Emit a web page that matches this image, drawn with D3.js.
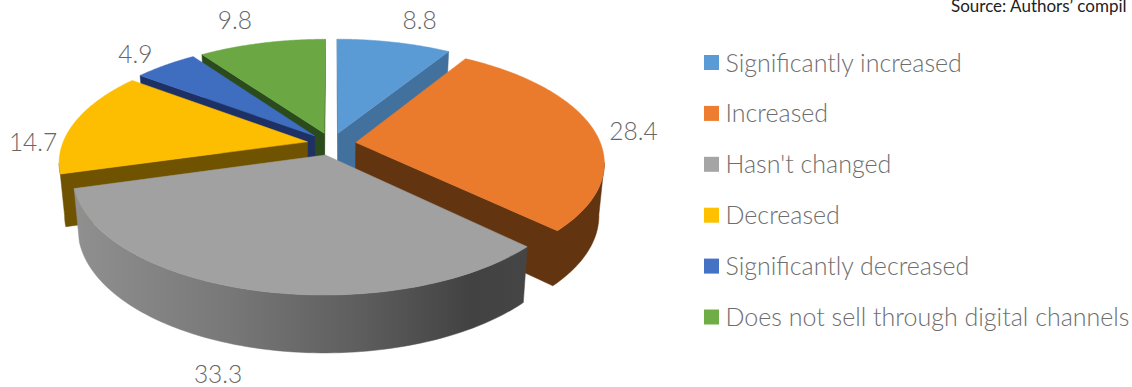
<!DOCTYPE html>
<html>
<head>
<meta charset="utf-8">
<script src="https://cdn.jsdelivr.net/npm/d3@7/dist/d3.min.js"></script>
<style>
  html, body { margin: 0; padding: 0; background: #fff; }
  svg { display: block; font-family: Lato, "Open Sans", sans-serif; }
</style>
</head>
<body>
<svg id="chart" width="1132" height="387"></svg>
<script>
// Survey shares, clockwise from twelve o'clock
const categories = ["Significantly increased", "Increased", "Hasn't changed",
                    "Decreased", "Significantly decreased", "Does not sell through digital channels"];
const shares = [8.8, 28.4, 33.3, 14.7, 4.9, 9.8];
const shareLabels = ["8.8", "28.4", "33.3", "14.7", "4.9", "9.8"];

// Face and wall colours per slice
const topColors = ["#5b9bd5", "#ea7b2d", "#a1a1a1", "#fdbd00", "#3f6ec1", "#6ba844"];
const wallColors = ["#41719c", "#62340f", "url(#grayWall)", "#6f5300", "#1d3164", "#2c4b1c"];
const keyColors = ["#5b9bd5", "#ed7d31", "#a5a5a5", "#ffc000", "#4472c4", "#70ad47"];

// Perspective model of the tilted pie
const view = { cx: 331.5, cy: 143.9, scaleX: 245, scaleY: 112.8, perspective: 0.165, explode: 0.1 };
const base = { shrinkX: 0.98, stretchY: 1.044, drop: 51.3 };
const labelNudges = [[25.5, -22], [40.5, 2], [-34, 84.5], [-42, 20], [-30, -11], [-27, -23]];

const svg = d3.select("#chart");

const defs = svg.append("defs");
const grad = defs.append("linearGradient").attr("id", "grayWall")
  .attr("gradientUnits", "userSpaceOnUse")
  .attr("x1", 75).attr("x2", 525).attr("y1", 0).attr("y2", 0);
[[0, "#909090"], [0.35, "#777777"], [0.65, "#5c5c5c"], [0.88, "#424242"], [1, "#454545"]]
  .forEach(([o, c]) => grad.append("stop").attr("offset", o).attr("stop-color", c));

const xLinear = d3.scaleLinear().domain([-1, 1]).range([view.cx - view.scaleX, view.cx + view.scaleX]);
const yLinear = d3.scaleLinear().domain([-1, 1]).range([view.cy - view.scaleY, view.cy + view.scaleY]);

// Top-face position of a polar point (radius 1 = rim) on an exploded slice
function topPoint(angle, radius, mid) {
  const U = radius * Math.sin(angle) + view.explode * Math.sin(mid);
  const V = -radius * Math.cos(angle) - view.explode * Math.cos(mid);
  const d = 1 - view.perspective * V;
  return [xLinear(U / d), yLinear(V / d)];
}
// Same point dropped onto the base plane
function basePoint(p) {
  return [view.cx + (p[0] - view.cx) * base.shrinkX,
          view.cy + (p[1] - view.cy) * base.stretchY + base.drop];
}

const pie = d3.pie().sort(null).startAngle(0).endAngle(2 * Math.PI);
const arcs = pie(shares).map((a, i) => ({ ...a, i, mid: (a.startAngle + a.endAngle) / 2 }));
const line = d3.line();

// Farthest slices first so nearer ones paint over them
const ordered = arcs.slice().sort((a, b) => Math.cos(b.mid) - Math.cos(a.mid));
const pieLayer = svg.append("g");

ordered.forEach(a => {
  const steps = 90;
  const rim = d3.range(steps + 1).map(k => {
    const t = a.startAngle + (a.endAngle - a.startAngle) * k / steps;
    return topPoint(t, 1, a.mid);
  });
  const apex = topPoint(0, 0, a.mid);
  const outline = [apex, ...rim, apex];
  const g = pieLayer.append("g");

  // A wall shows where the outline runs leftwards on screen; gather those runs
  let runs = [], run = null;
  for (let k = 0; k < outline.length - 1; k++) {
    if (outline[k + 1][0] < outline[k][0]) {
      if (!run) { run = [outline[k]]; runs.push(run); }
      run.push(outline[k + 1]);
    } else run = null;
  }
  runs.forEach(r => {
    const poly = [...r, ...r.slice().reverse().map(basePoint)];
    g.append("path").attr("d", line(poly) + "Z")
      .attr("fill", wallColors[a.i]).attr("stroke", wallColors[a.i]).attr("stroke-width", 0.5);
  });

  g.append("path").attr("d", line(outline) + "Z").attr("fill", topColors[a.i])
    .attr("stroke", topColors[a.i]).attr("stroke-width", 0.5);
});

// Value labels beside each slice's rim
svg.append("g").selectAll("text").data(arcs).join("text")
  .attr("transform", a => {
    const p = topPoint(a.mid, 1, a.mid), n = labelNudges[a.i];
    return `translate(${p[0] + n[0]},${p[1] + n[1]})`;
  })
  .attr("text-anchor", "middle").attr("dy", "0.36em")
  .attr("font-size", 24.5).attr("font-weight", 300).attr("fill", "#666666")
  .text(a => shareLabels[a.i]);

// Legend
const legendY = d3.scalePoint().domain(categories).range([62.5, 317]);
const legend = svg.append("g").selectAll("g").data(categories).join("g")
  .attr("transform", d => `translate(704,${legendY(d)})`);
legend.append("rect").attr("x", 0).attr("y", -7.5).attr("width", 15).attr("height", 15)
  .attr("fill", (d, i) => keyColors[i]);
legend.append("text").attr("x", 21.5).attr("dy", "0.36em")
  .attr("font-size", 25).attr("font-weight", 300).attr("fill", "#6e6e6e").text(d => d);

// Source note in the top corner
svg.append("text").attr("x", 951).attr("y", 12).attr("font-size", 17)
  .attr("fill", "#222").text("Source: Authors\u2019 compil");
</script>
</body>
</html>
